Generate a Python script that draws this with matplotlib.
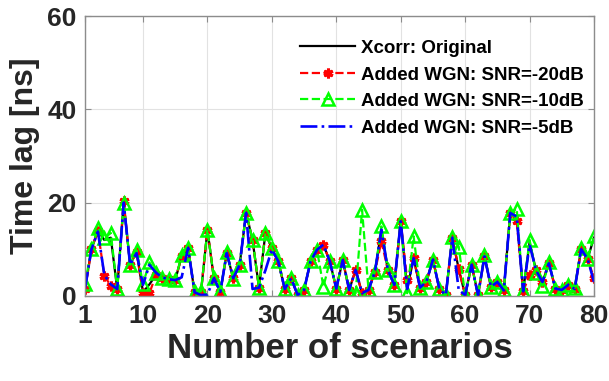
import numpy as np
import matplotlib
matplotlib.use("Agg")
import matplotlib.pyplot as plt

plt.rcParams['font.family'] = ['Liberation Sans', 'DejaVu Sans']
plt.rcParams['font.weight'] = 'bold'

scenarios = np.arange(1, 81)

# time lag per scenario [ns]
lag_original = [
    1.6, 10, 14, 12, 12.5, 1.5, 20, 6.7, 9.5, 0.8,
    2.5, 4.5, 3.8, 3.6, 3.4, 8.5, 10.3, 0.8, 0.8, 14.2,
    3.8, 0.9, 9.2, 3.8, 6.7, 17.8, 12, 1.8, 13.5, 10.2,
    7.4, 1.5, 3.8, 0.2, 1.3, 7.4, 9.9, 11, 7.4, 1.6,
    7.7, 1.3, 5.6, 0.6, 1.3, 5.2, 14.2, 5.6, 2.4, 16,
    1.5, 8.1, 1.8, 3.1, 7.8, 1.5, 0.2, 12.5, 5.8, 0.2,
    6.7, 0.2, 8.5, 2.0, 3.0, 1.2, 17.8, 17, 1.0, 11.5,
    5.5, 3.0, 7.0, 1.6, 1.3, 2.4, 1.5, 10, 8, 12.5,
]
lag_snr_m20 = [
    1.4, 10, 14, 4.3, 2.2, 1.5, 20.3, 6.7, 9.5, 0.6,
    0.6, 4.5, 3.8, 3.6, 3.4, 8.5, 10.3, 0.8, 0.8, 14.2,
    3.8, 0.9, 9.2, 3.8, 6.7, 17.8, 12, 1.8, 13.5, 10.2,
    7.4, 1.5, 3.8, 0.2, 1.3, 7.4, 9.9, 11, 7.4, 1.6,
    7.7, 1.3, 5.6, 0.6, 1.3, 5.2, 11.7, 5.6, 2.4, 16,
    3.4, 8.1, 1.8, 3.1, 7.8, 1.5, 0.2, 12.5, 5.8, 0.2,
    6.7, 0.2, 8.5, 2.0, 3.0, 1.2, 17.8, 16, 1.0, 4.5,
    5.5, 3.0, 7.0, 1.6, 1.3, 2.4, 1.5, 10, 8, 3.8,
]
lag_snr_m10 = [
    2.6, 10, 14.6, 12.4, 13.5, 1.4, 20, 6.7, 9.8, 2.6,
    7.2, 5.0, 3.8, 3.6, 3.4, 8.7, 10.3, 0.9, 1.0, 14.2,
    3.8, 1.0, 9.4, 3.6, 6.7, 17.8, 12.1, 1.8, 13.5, 10.2,
    7.4, 1.5, 3.8, 0.3, 1.3, 7.4, 9.9, 2.0, 7.4, 1.6,
    7.7, 1.3, 0.6, 18.5, 1.3, 5.2, 14.9, 5.6, 2.4, 16,
    0.6, 12.8, 1.8, 3.1, 7.8, 1.5, 0.2, 12.6, 10.6, 0.2,
    6.7, 0.2, 8.8, 2.0, 3.0, 1.2, 17.8, 18.7, 1.0, 12,
    5.0, 2.2, 7.2, 1.6, 1.3, 2.4, 1.8, 10.2, 8, 12.8,
]
lag_snr_m5 = [
    1.6, 10, 13.8, 4.5, 2.5, 1.5, 20, 6.7, 9.2, 2.4,
    6.7, 5.0, 4.0, 3.6, 3.4, 4.0, 10.3, 0.8, 0.2, 0.3,
    3.8, 0.9, 9.2, 3.8, 6.7, 17.8, 1.5, 1.8, 5.5, 10,
    7.4, 1.5, 3.8, 0.2, 1.3, 7.4, 9.9, 11, 7.4, 1.6,
    7.7, 1.3, 5.6, 0.6, 1.3, 5.2, 14.2, 5.6, 2.4, 16,
    1.5, 8.1, 1.8, 3.1, 7.8, 1.5, 0.2, 12.5, 1.3, 0.2,
    6.7, 0.2, 8.5, 2.0, 3.0, 1.2, 17.8, 17, 1.0, 11,
    5.5, 3.0, 7.0, 1.6, 1.3, 2.4, 1.5, 10, 8, 3.0,
]

x_ticks = [1, 10, 20, 30, 40, 50, 60, 70, 80]
y_ticks = [0, 20, 40, 60]

fig = plt.figure(figsize=(6.09, 3.81), dpi=100)
ax = fig.add_axes([0.1396, 0.2231, 0.8358, 0.7349])

ax.plot(scenarios, lag_original, '-', color='black', lw=1.6,
        label='Xcorr: Original')
ax.plot(scenarios, lag_snr_m20, '--', color='red', lw=1.6,
        marker=(6, 2, 0), ms=7, mew=2.2,
        label='Added WGN: SNR=-20dB')
ax.plot(scenarios, lag_snr_m10, '--', color=(0, 1, 0), lw=1.6,
        marker='^', ms=8, mfc='none', mew=1.8,
        label='Added WGN: SNR=-10dB')
ax.plot(scenarios, lag_snr_m5, '-.', color='blue', lw=1.9,
        label='Added WGN: SNR=-5dB')

ax.set_xlim(1, 80)
ax.set_ylim(0, 60)
ax.set_xticks(x_ticks)
ax.set_yticks(y_ticks)
ax.grid(True, color='#e2e2e2', lw=0.8)
ax.set_axisbelow(True)

for s in ax.spines.values():
    s.set_color('#8c8c8c')
    s.set_linewidth(1.0)
ax.tick_params(direction='in', length=4, color='#8c8c8c', labelsize=19,
               labelcolor='#262626', top=True, right=True, pad=6)
for lbl in ax.get_xticklabels() + ax.get_yticklabels():
    lbl.set_fontweight('bold')

ax.set_xlabel('Number of scenarios', fontsize=25, fontweight='bold',
              color='#262626', labelpad=3)
ax.set_ylabel('Time lag [ns]', fontsize=23, fontweight='bold',
              color='#262626', labelpad=5)

leg = ax.legend(loc='upper left', bbox_to_anchor=(0.39, 0.975), frameon=False,
                prop={'size': 13.5, 'weight': 'bold'}, handlelength=2.9,
                labelspacing=0.5, handletextpad=0.35)
for t in leg.get_texts():
    t.set_color('black')

fig.savefig('out.png', dpi=100)
